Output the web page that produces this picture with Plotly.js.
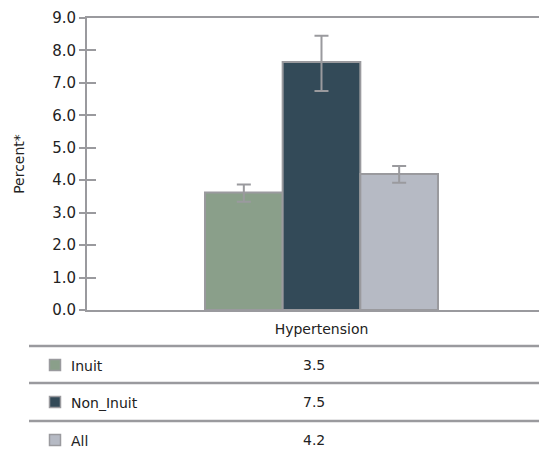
<!DOCTYPE html>
<html>
<head>
<meta charset="utf-8">
<script src="https://cdn.plot.ly/plotly-3.0.1.min.js"></script>
<style>html,body{margin:0;padding:0;background:#fff;}#chart{width:539px;height:456px;}</style>
</head>
<body>
<div id="chart"></div>
<script>
// ---- data ----
const categories = ["Hypertension"];
const seriesNames = ["Inuit", "Non_Inuit", "All"];
const barValues = [3.62, 7.64, 4.19];
const upperCI = [3.87, 8.45, 4.44];
const lowerCI = [3.34, 6.75, 3.92];
const tableLabels = ["3.5", "7.5", "4.2"];
const yTickVals = [0, 1, 2, 3, 4, 5, 6, 7, 8, 9];

// ---- styles ----
const colors = ["#8a9f8a", "#334a58", "#b6bac4"];
const gray = "#9a9a9e";
const font = "DejaVu Sans, Verdana, sans-serif";
const txt = "#222";

const traces = seriesNames.map((name, i) => ({
  type: "bar",
  name: name,
  x: categories,
  y: [barValues[i]],
  marker: { color: colors[i], line: { color: gray, width: 2 } },
  error_y: {
    type: "data",
    symmetric: false,
    array: [upperCI[i] - barValues[i]],
    arrayminus: [barValues[i] - lowerCI[i]],
    color: gray,
    thickness: 2,
    width: 7
  },
  hoverinfo: "none"
}));

// table rows
const rowY = [365, 402, 440];
const lineY = [346, 383, 421];
const H = 456, W = 539;
const shapes = [];
const annotations = [];
lineY.forEach(y => shapes.push({
  type: "line", xref: "paper", yref: "paper",
  x0: (29 - 87) / 452, x1: 1,
  y0: (310 - y) / 292, y1: (310 - y) / 292,
  line: { color: gray, width: 2.5 }
}));
seriesNames.forEach((name, i) => {
  const yc = rowY[i];
  shapes.push({
    type: "rect", xref: "paper", yref: "paper",
    x0: (49.5 - 87) / 452, x1: (60.5 - 87) / 452,
    y0: (310 - (yc - 5.5)) / 292, y1: (310 - (yc + 5.5)) / 292,
    fillcolor: colors[i], line: { color: gray, width: 1.5 }
  });
  annotations.push({
    xref: "paper", yref: "paper",
    x: (69 - 87) / 452, y: (310 - yc - 1) / 292,
    xanchor: "left", yanchor: "middle",
    text: name, showarrow: false,
    font: { family: font, size: 14, color: txt }
  });
  annotations.push({
    xref: "paper", yref: "paper",
    x: (314 - 87) / 452, y: (310 - yc) / 292,
    xanchor: "center", yanchor: "middle",
    text: tableLabels[i], showarrow: false,
    font: { family: font, size: 14, color: txt }
  });
});

const layout = {
  width: W, height: H,
  margin: { l: 87, r: 0, t: 18, b: 146, pad: 0 },
  paper_bgcolor: "#fff", plot_bgcolor: "#fff",
  showlegend: false,
  barmode: "group", bargap: 0, bargroupgap: 0,
  font: { family: font, size: 14, color: txt },
  xaxis: {
    type: "category",
    range: [-1.0064, 0.9335],
    showline: true, mirror: true, linecolor: gray, linewidth: 2,
    ticks: "", showgrid: false, zeroline: false,
    ticklabelstandoff: 5,
    tickfont: { family: font, size: 14, color: txt },
    automargin: false
  },
  yaxis: {
    range: [0, 9], tickvals: yTickVals,
    tickformat: ".1f",
    showline: true, linecolor: gray, linewidth: 2,
    ticks: "outside", ticklen: 6, tickwidth: 2, tickcolor: gray,
    showgrid: false, zeroline: false,
    tickfont: { family: font, size: 15, color: txt },
    title: { text: "Percent*", font: { family: font, size: 14, color: txt }, standoff: 24 },
    automargin: false
  },
  yaxis2: {
    overlaying: "y", side: "left", range: [0, 9], tickvals: yTickVals,
    ticks: "inside", ticklen: 9, tickwidth: 2, tickcolor: gray,
    showticklabels: false, showgrid: false, zeroline: false, showline: false
  },
  shapes: shapes,
  annotations: annotations
};

// dummy trace to activate yaxis2
traces.push({ type: "scatter", x: categories, y: [null], yaxis: "y2", hoverinfo: "none", showlegend: false });

Plotly.newPlot("chart", traces, layout, { staticPlot: true, displayModeBar: false });
</script>
</body>
</html>
